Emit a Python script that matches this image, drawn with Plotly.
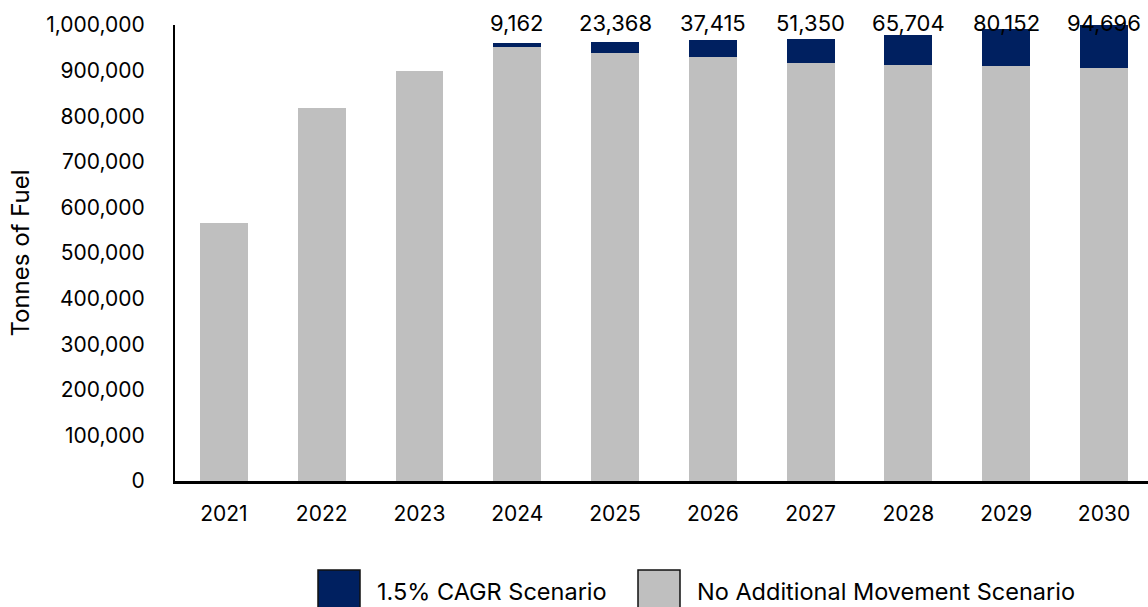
import plotly.graph_objects as go

years = ["2021", "2022", "2023", "2024", "2025", "2026", "2027", "2028", "2029", "2030"]
no_additional = [566000, 819000, 899000, 951000, 939000, 929000, 917000, 913000, 910000, 906000]
cagr_extra = [None, None, None, 9162, 23368, 37415, 51350, 65704, 80152, 94696]
y_ticks = [0, 100000, 200000, 300000, 400000, 500000, 600000, 700000, 800000, 900000, 1000000]

FONT = "Inter"
BLUE = "#002060"
GRAY = "#BFBFBF"
LABEL_ROW = 1.004  # data labels sit in a row just at the top of the plot area (paper units)

fig = go.Figure()
fig.add_trace(go.Bar(x=years, y=no_additional, name="No Additional Movement Scenario",
                     marker=dict(color=GRAY, line=dict(width=0)), showlegend=False))
fig.add_trace(go.Bar(x=years, y=cagr_extra, name="1.5% CAGR Scenario",
                     marker=dict(color=BLUE, line=dict(width=0)), showlegend=False))

annotations = []
for i, (yr, extra) in enumerate(zip(years, cagr_extra)):
    if extra is None:
        continue
    annotations.append(dict(x=i, xref="x", y=LABEL_ROW, yref="paper", text=f"{extra:,}",
                            showarrow=False, xanchor="center", yanchor="middle",
                            font=dict(family=FONT, size=22, color="#000000")))

# manual legend (large swatches like the reference)
W, L, T, B = 973, 175, 25, 481
H = B - T
def px(x):
    return (x - L) / W
def py(y):
    return (B - y) / H

shapes = [
    dict(type="rect", xref="paper", yref="paper", x0=px(318), x1=px(360), y0=py(612), y1=py(570),
         fillcolor=BLUE, line=dict(color="#111111", width=1.5)),
    dict(type="rect", xref="paper", yref="paper", x0=px(638), x1=px(680), y0=py(612), y1=py(570),
         fillcolor=GRAY, line=dict(color="#111111", width=1.5)),
]
annotations += [
    dict(xref="paper", yref="paper", x=px(375), y=py(591), text="1.5% CAGR Scenario",
         showarrow=False, xanchor="left", yanchor="middle",
         font=dict(family=FONT, size=23.5, color="#000000")),
    dict(xref="paper", yref="paper", x=px(695), y=py(591), text="No Additional Movement Scenario",
         showarrow=False, xanchor="left", yanchor="middle",
         font=dict(family=FONT, size=23.5, color="#000000")),
]

fig.update_layout(
    barmode="stack",
    bargap=0.51,
    width=1148, height=607,
    margin=dict(l=L, r=0, t=T, b=607 - B, pad=0),
    plot_bgcolor="white", paper_bgcolor="white",
    font=dict(family=FONT, size=21, color="#000000"),
    annotations=annotations,
    shapes=shapes,
    showlegend=False,
)
fig.update_xaxes(type="category", range=[-0.5, 9.45], showline=True, linecolor="#000000",
                 linewidth=2.5, ticks="", showgrid=False, ticklabelstandoff=12,
                 tickfont=dict(family=FONT, size=21))
fig.update_yaxes(range=[0, 1000000], tickvals=y_ticks, ticktext=[f"{v:,}" for v in y_ticks],
                 showline=True, linecolor="#000000", linewidth=2, ticks="", showgrid=False,
                 zeroline=False, ticklabelstandoff=24,
                 title=dict(text="Tonnes of Fuel", font=dict(family=FONT, size=24), standoff=10),
                 tickfont=dict(family=FONT, size=21))

fig.write_html("out.html", config={"displayModeBar": False},
               post_script="document.body.style.margin='0';")
